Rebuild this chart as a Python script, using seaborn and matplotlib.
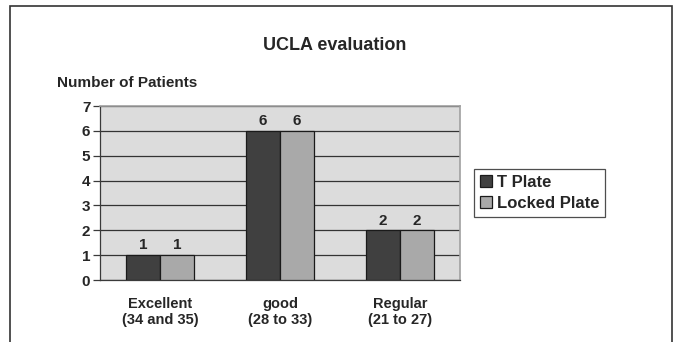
import pandas as pd
import numpy as np
import matplotlib
matplotlib.use('Agg')
import matplotlib.pyplot as plt
from matplotlib.patches import Rectangle
import seaborn as sns

# --- Data ---
categories = ['Excellent\n(34 and 35)', 'good\n(28 to 33)', 'Regular\n(21 to 27)']
t_plate = [1, 6, 2]
locked_plate = [1, 6, 2]
series_names = ['T Plate', 'Locked Plate']
colors = ['#404040', '#a9a9a9']

df = pd.DataFrame({
    'category': categories * 2,
    'patients': t_plate + locked_plate,
    'plate': [series_names[0]] * 3 + [series_names[1]] * 3,
})

sns.set_style('white')
plt.rcParams['font.family'] = ['Liberation Sans', 'DejaVu Sans']
plt.rcParams['font.weight'] = 'bold'

fig = plt.figure(figsize=(6.82, 3.42), dpi=100)
ax = fig.add_axes([0.1466, 0.181, 0.528, 0.509])
ax.set_facecolor('#dcdcdc')

sns.barplot(data=df, x='category', y='patients', hue='plate', palette=colors,
            width=0.567, gap=0, edgecolor='#1a1a1a', linewidth=0.9, ax=ax, zorder=3)

for cont in ax.containers:
    ax.bar_label(cont, fontsize=11, fontweight='bold', padding=2)

ax.set_ylim(0, 7)
ax.set_xlim(-0.5, 2.5)
ax.set_yticks(range(0, 8))
ax.yaxis.grid(True, color='#333333', linewidth=0.9, zorder=0)
ax.set_axisbelow(True)
ax.set_xlabel('')
ax.set_ylabel('')

# category boundary ticks on x axis
ax.set_xticks([0, 1, 2])
ax.set_xticks([-0.5, 0.5, 1.5, 2.5], minor=True)
ax.tick_params(axis='x', which='major', length=0, pad=12, labelsize=10.5)
ax.tick_params(axis='x', which='minor', length=5, width=0.9, color='#3a3a3a', direction='out')
ax.tick_params(axis='y', length=5, width=0.9, color='#3a3a3a', direction='out', labelsize=11, pad=2)
ax.tick_params(bottom=True, left=True)
for lbl in ax.get_xticklabels() + ax.get_yticklabels():
    lbl.set_fontweight('bold')

for side in ['top', 'right']:
    ax.spines[side].set_color('#a0a0a0')
    ax.spines[side].set_linewidth(1.2)
for side in ['left', 'bottom']:
    ax.spines[side].set_color('#3a3a3a')
    ax.spines[side].set_linewidth(0.9)

leg = ax.legend(loc='center left', bbox_to_anchor=(1.039, 0.5), borderaxespad=0,
                frameon=True, fancybox=False,
                handlelength=0.7, handleheight=0.7, handletextpad=0.3, borderpad=0.35,
                labelspacing=0.35, prop={'size': 12, 'weight': 'bold'})
leg.get_frame().set_edgecolor('#222222')
leg.get_frame().set_linewidth(0.9)
for h in leg.legend_handles:
    h.set_edgecolor('#1a1a1a')

fig.text(0.491, 0.868, 'UCLA evaluation', ha='center', va='center', fontsize=13, fontweight='bold')
fig.text(0.083, 0.757, 'Number of Patients', ha='left', va='center', fontsize=11, fontweight='bold')

# outer chart frame
fig.patches.append(Rectangle((0.0147, -0.1), 0.9706, 1.082, transform=fig.transFigure,
                             fill=False, edgecolor='#333333', linewidth=1.2))

fig.savefig('out.png', dpi=100)
